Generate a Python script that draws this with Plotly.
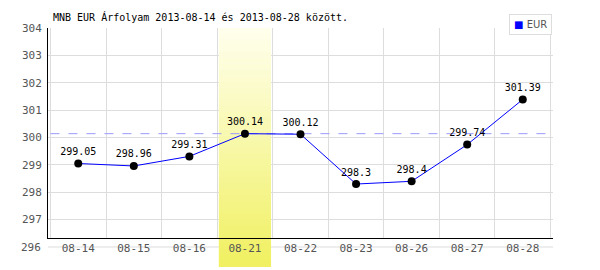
import plotly.graph_objects as go

# ---- data ----
DATES = ["08-14", "08-15", "08-16", "08-21", "08-22", "08-23", "08-26", "08-27", "08-28"]
VALUES = [299.05, 298.96, 299.31, 300.14, 300.12, 298.3, 298.4, 299.74, 301.39]
Y_TICKS = [296, 297, 298, 299, 300, 301, 302, 303, 304]
REF_LINE = 300.14
HIGHLIGHT = "08-21"
SERIES = "EUR"
TITLE = "MNB EUR Árfolyam 2013-08-14 és 2013-08-28 között."

# ---- styling ----
MONO = "DejaVu Sans Mono"
Y_MIN_VIS = 296.329  # axis line sits slightly above the lowest grid value
Y_MAX = 304
GRID = "#dddddd"
TICKC = "#555555"

labels = [f"{v:g}" for v in VALUES]

fig = go.Figure()
fig.add_trace(go.Scatter(
    x=DATES, y=VALUES, mode="lines+markers+text",
    line=dict(color="#0000ff", width=1),
    marker=dict(color="black", size=8),
    text=labels, textposition="top center",
    textfont=dict(family=MONO, size=10, color="black"),
    cliponaxis=False, showlegend=False, name=SERIES,
))

shapes = []
y296 = (Y_TICKS[0] - Y_MIN_VIS) / (Y_MAX - Y_MIN_VIS)
# lowest grid line (below the axis line)
shapes.append(dict(type="line", xref="paper", yref="paper", x0=0, x1=1,
                   y0=y296, y1=y296, line=dict(color=GRID, width=1), layer="below"))

# highlight band with a vertical gradient (stripes)
idx = DATES.index(HIGHLIGHT)
n = 40
bottom = -(29 / 210)          # paper fraction reached below the plot area
top_c = (255, 255, 238)
bot_c = (240, 240, 96)
span = Y_MAX - Y_MIN_VIS
for i in range(n):
    f0 = i / n
    f1 = (i + 1) / n
    p1 = 1 - f0 * (1 - bottom)
    p0 = 1 - f1 * (1 - bottom)
    t = (i + 0.5) / n
    c = tuple(round(top_c[k] + (bot_c[k] - top_c[k]) * t) for k in range(3))
    col = f"rgb{c}"
    # part inside the plot area (above grid lines)
    if p1 > 0:
        q0 = max(p0, 0)
        shapes.append(dict(type="rect", xref="x", yref="y",
                           x0=idx - 0.47, x1=idx + 0.47,
                           y0=Y_MIN_VIS + q0 * span, y1=Y_MIN_VIS + min(p1 + 0.002, 1) * span,
                           fillcolor=col, line=dict(width=0), layer="between"))
    # part below the plot area
    if p0 < 0:
        shapes.append(dict(type="rect", xref="x", yref="paper",
                           x0=idx - 0.47, x1=idx + 0.47,
                           y0=p0, y1=min(p1, 0) + 0.002,
                           fillcolor=col, line=dict(width=0), layer="below"))

# reference dashed line
shapes.append(dict(type="line", xref="x", yref="y", x0=-0.5, x1=len(DATES) - 0.5,
                   y0=REF_LINE, y1=REF_LINE,
                   line=dict(color="#9999ff", width=1, dash="dash"), layer="between"))

annotations = [
    dict(text=str(Y_TICKS[0]), xref="paper", yref="paper", x=0, y=y296,
         xanchor="right", yanchor="middle", xshift=-5, showarrow=False,
         font=dict(family=MONO, size=11, color=TICKC)),
    dict(text='<span style="color:#0000ff">■</span> ' + SERIES,
         xref="paper", yref="paper", x=1, y=1 + 14 / 210,
         xanchor="right", yanchor="top", xshift=-1, showarrow=False,
         bgcolor="white", bordercolor="#dddddd", borderwidth=1, borderpad=4,
         font=dict(family="DejaVu Sans", size=10, color=TICKC)),
]

fig.update_layout(
    width=600, height=270,
    margin=dict(l=48, r=47, t=28, b=32, pad=0),
    paper_bgcolor="white", plot_bgcolor="white",
    title=dict(text=TITLE, x=53 / 600, xref="container", xanchor="left",
               y=1 - 17 / 270, yref="container", yanchor="middle",
               font=dict(family=MONO, size=10, color="black")),
    shapes=shapes, annotations=annotations, showlegend=False,
    xaxis=dict(type="category", categoryorder="array", categoryarray=DATES,
               tickson="boundaries", ticks="", showgrid=True, gridcolor=GRID, gridwidth=1,
               showline=True, linecolor="black", linewidth=1,
               tickfont=dict(family=MONO, size=11, color=TICKC), zeroline=False,
               fixedrange=True),
    yaxis=dict(range=[Y_MIN_VIS, Y_MAX], tickvals=Y_TICKS, ticks="",
               showgrid=True, gridcolor=GRID, gridwidth=1,
               showline=True, linecolor="black", linewidth=1, zeroline=False,
               tickfont=dict(family=MONO, size=11, color=TICKC),
               ticklabelstandoff=3),
)

fig.write_html("out.html")
